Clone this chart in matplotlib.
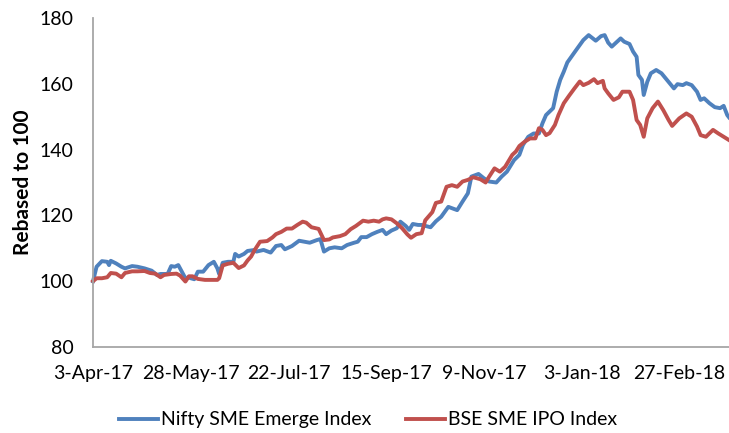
import pandas as pd
import matplotlib
matplotlib.use("Agg")
import matplotlib.pyplot as plt

START = "2017-04-03"
END = "2018-03-27"

# days since 3-Apr-17
nifty_days = [0, 2, 5, 8, 9, 10, 13, 16, 18, 22, 25, 29, 33, 36, 38, 40, 42, 44, 46, 48,
              50, 52, 54, 55, 57, 59, 62, 65, 68, 70, 71, 73, 76, 79, 80, 82, 85, 87, 91, 92,
              96, 100, 103, 106, 108, 112, 116, 119, 122, 126, 128, 130, 133, 136, 140, 143, 147, 149, 151, 154,
              157, 160, 163, 165, 168, 171, 173, 176, 178, 180, 183, 185, 190, 193, 196, 200, 205, 208, 211, 213,
              217, 220, 223, 227, 230, 233, 237, 240, 242, 245, 248, 251, 253, 255, 259, 261, 263, 265, 267, 270,
              272, 276, 279, 283, 286, 288, 290, 292, 294, 297, 299, 302, 304, 306, 307, 309, 310, 312, 314, 317,
              320, 324, 327, 329, 332, 334, 337, 340, 342, 344, 347, 350, 353, 355, 357, 358]
nifty_vals = [100.0, 104.4, 106.1, 105.9, 104.9, 106.2, 105.4, 104.4, 103.9, 104.6, 104.4, 103.9, 103.2, 101.9, 102.2, 102.2, 102.2, 104.6, 104.4, 104.9,
              102.9, 100.9, 101.2, 100.9, 100.6, 102.9, 102.9, 104.9, 105.9, 103.9, 102.2, 105.6, 105.9, 105.9, 108.3, 107.5, 108.3, 109.2, 109.5, 109.0,
              109.5, 108.7, 110.7, 111.0, 109.7, 110.7, 112.3, 112.0, 111.7, 112.5, 112.8, 109.0, 110.0, 110.3, 110.0, 111.0, 111.7, 112.0, 113.4, 113.4,
              114.3, 115.0, 115.6, 114.3, 115.4, 116.1, 118.1, 116.8, 115.6, 117.4, 117.1, 117.1, 116.4, 118.2, 119.6, 122.6, 121.6, 124.2, 126.7, 131.8,
              132.6, 131.3, 130.3, 130.0, 131.8, 133.3, 136.8, 138.4, 141.4, 143.9, 144.9, 144.9, 148.0, 150.5, 152.6, 157.6, 161.2, 163.7, 166.5, 168.8,
              170.3, 173.3, 174.8, 173.1, 174.5, 174.8, 172.5, 171.3, 172.3, 173.8, 172.8, 172.1, 169.8, 168.2, 162.7, 161.2, 156.6, 160.6, 163.2, 164.2,
              163.2, 160.6, 158.6, 159.9, 159.6, 160.2, 159.6, 157.6, 155.1, 155.6, 154.1, 152.9, 152.6, 153.3, 150.5, 149.8]

bse_days = [0, 2, 5, 8, 10, 13, 16, 18, 22, 25, 29, 32, 35, 38, 40, 44, 47, 49, 52, 54,
            56, 59, 63, 67, 70, 71, 73, 76, 79, 82, 85, 87, 89, 91, 94, 98, 101, 103, 106, 109,
            112, 115, 118, 120, 123, 127, 130, 133, 135, 139, 142, 145, 148, 152, 155, 158, 161, 163, 165, 168,
            171, 174, 177, 179, 182, 185, 187, 191, 193, 196, 199, 202, 205, 208, 211, 214, 218, 221, 223, 226,
            229, 232, 236, 238, 240, 243, 246, 249, 251, 253, 255, 257, 260, 262, 265, 268, 271, 274, 276, 279,
            282, 284, 287, 288, 290, 293, 296, 298, 302, 304, 306, 308, 310, 312, 315, 318, 321, 324, 326, 330,
            334, 337, 340, 342, 345, 349, 352, 355, 358]
bse_vals = [100.0, 100.9, 100.9, 101.2, 102.5, 102.3, 101.2, 102.5, 103.0, 103.0, 103.1, 102.5, 102.3, 101.2, 101.9, 102.2, 102.3, 101.7, 99.9, 101.5,
            101.5, 100.7, 100.4, 100.4, 100.4, 100.9, 104.8, 105.3, 105.6, 104.0, 104.8, 106.3, 107.5, 109.5, 112.0, 112.2, 113.3, 114.3, 115.0, 116.0,
            116.0, 117.1, 118.1, 117.8, 116.4, 115.9, 112.5, 112.7, 113.3, 113.7, 114.3, 115.8, 116.8, 118.4, 118.1, 118.4, 118.1, 118.8, 119.1, 118.8,
            117.6, 116.1, 114.2, 113.2, 114.3, 114.6, 118.5, 121.0, 123.8, 124.2, 128.7, 129.2, 128.7, 130.3, 130.8, 131.6, 131.0, 130.0, 131.8, 134.3,
            133.3, 134.8, 138.4, 139.4, 141.1, 142.4, 143.4, 143.4, 146.5, 146.0, 144.4, 145.0, 147.5, 150.5, 154.1, 156.4, 158.6, 160.7, 159.6, 160.3,
            161.4, 160.2, 160.9, 158.6, 157.1, 155.1, 155.9, 157.6, 157.6, 155.1, 149.0, 147.5, 143.9, 149.5, 152.6, 154.6, 152.0, 149.0, 147.2, 149.5,
            151.0, 150.0, 147.0, 144.4, 143.9, 146.0, 144.9, 143.9, 142.9]

tick_labels = ["3-Apr-17", "28-May-17", "22-Jul-17", "15-Sep-17", "9-Nov-17", "3-Jan-18", "27-Feb-18"]

start = pd.Timestamp(START)
nifty_dates = start + pd.to_timedelta(nifty_days, unit="D")
bse_dates = start + pd.to_timedelta(bse_days, unit="D")
tick_dates = pd.to_datetime(tick_labels, format="%d-%b-%y")

plt.rcParams["font.family"] = ["Lato", "DejaVu Sans"]
FS = 14

fig = plt.figure(figsize=(7.29, 4.33), dpi=100)
ax = fig.add_axes([0.1276, 0.1986, 0.8724, 0.7598])

ax.plot(nifty_dates, nifty_vals, color="#4F81BD", lw=2.8, label="Nifty SME Emerge Index",
        solid_joinstyle="round", clip_on=False)
ax.plot(bse_dates, bse_vals, color="#C0504D", lw=2.8, label="BSE SME IPO Index",
        solid_joinstyle="round", clip_on=False)

ax.set_xlim(start, pd.Timestamp(END))
ax.set_ylim(80, 180)
ax.set_yticks([80, 100, 120, 140, 160, 180])
ax.set_xticks(tick_dates)
ax.set_xticklabels(tick_labels)
ax.tick_params(axis="both", length=0, labelsize=FS, colors="black")
ax.tick_params(axis="y", pad=14)
ax.tick_params(axis="x", pad=13)

for s in ["top", "right"]:
    ax.spines[s].set_visible(False)
for s in ["left", "bottom"]:
    ax.spines[s].set_color("#A6A6A6")
    ax.spines[s].set_linewidth(1.3)

ax.set_ylabel("Rebased to 100", fontsize=15, fontweight="bold", labelpad=5)

fig.legend(loc="lower center", bbox_to_anchor=(0.505, -0.03), ncol=2, frameon=False,
           fontsize=FS, handlelength=2.0, handletextpad=0.15, columnspacing=1.8)

fig.savefig("out.png", dpi=100)
